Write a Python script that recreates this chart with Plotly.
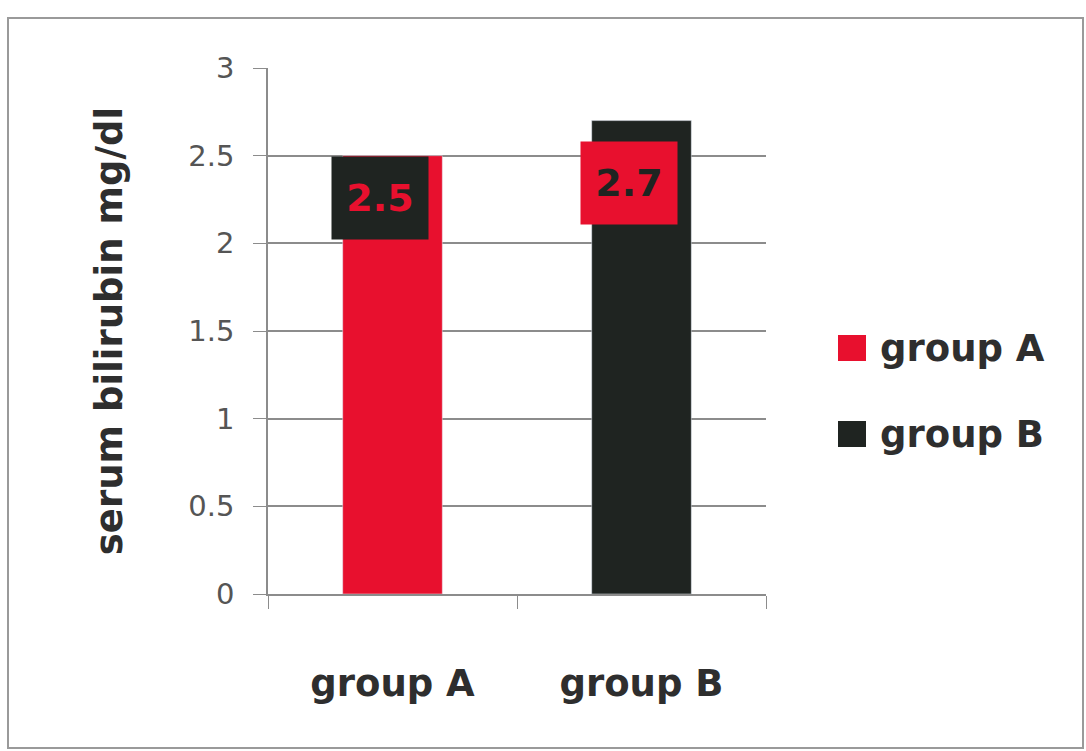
import plotly.graph_objects as go

categories = ["group A", "group B"]
values = [2.5, 2.7]
label_texts = ["2.5", "2.7"]
colors = ["#e8102e", "#1f2421"]
label_bg = ["#1f2421", "#e8102e"]
label_fg = ["#e8102e", "#1f2421"]
label_yshift = [0, -20]
y_ticks = [0, 0.5, 1, 1.5, 2, 2.5, 3]

FONT = "DejaVu Sans, sans-serif"
TXT = "#2e2e2e"

fig = go.Figure()
for i, cat in enumerate(categories):
    fig.add_trace(go.Bar(
        x=[cat], y=[values[i]], name=cat, marker_color=colors[i],
        width=0.4, showlegend=False,
    ))

for i, cat in enumerate(categories):
    fig.add_annotation(
        x=cat, y=values[i], xref="x", yref="y", text="<b>%s</b>" % label_texts[i],
        showarrow=False, yanchor="top", xanchor="center", xshift=-13, yshift=label_yshift[i],
        bgcolor=label_bg[i], width=94, height=80, valign="middle",
        font=dict(family=FONT, size=38, color=label_fg[i]),
    )

# manual legend (paper coordinates derived from pixel layout of plot area)
PX0, PW, PY0, PH = 268, 498, 594, 526
def px(x):
    return (x - PX0) / PW
def py(y):
    return (PY0 - y) / PH

legend_y = [348, 434]
for i, cat in enumerate(categories):
    fig.add_shape(type="rect", xref="paper", yref="paper",
                  x0=px(838), x1=px(866), y0=py(legend_y[i] + 13), y1=py(legend_y[i] - 13),
                  fillcolor=colors[i], line=dict(width=0))
    fig.add_annotation(x=px(878), y=py(legend_y[i]), xref="paper", yref="paper",
                       text="<b>%s</b>" % cat, showarrow=False, xanchor="left", yanchor="middle",
                       font=dict(family=FONT, size=37, color=TXT))

# outer frame
fig.add_shape(type="rect", xref="paper", yref="paper",
              x0=px(8), x1=px(1083), y0=py(748), y1=py(18),
              line=dict(color="#9a9a9a", width=2), fillcolor="rgba(0,0,0,0)", layer="below")

fig.update_layout(
    width=1086, height=751,
    margin=dict(l=268, r=320, t=68, b=157),
    paper_bgcolor="white", plot_bgcolor="white",
    font=dict(family=FONT),
    showlegend=False,
    xaxis=dict(
        showline=True, linecolor="#8c8c8c", linewidth=1.5,
        ticks="outside", tickson="boundaries", ticklen=13, tickcolor="#8c8c8c",
        tickfont=dict(family=FONT, size=37, color=TXT, weight="bold"),
        ticklabelstandoff=56, showgrid=False,
    ),
    yaxis=dict(
        range=[0, 3], tickvals=y_ticks, ticktext=[("%g" % v) for v in y_ticks],
        showline=True, linecolor="#8c8c8c", linewidth=1.5,
        ticks="outside", ticklen=13, tickcolor="#8c8c8c",
        showgrid=True, gridcolor="#8c8c8c", gridwidth=1.5,
        tickfont=dict(family=FONT, size=29, color="#555555"),
        ticklabelstandoff=13, zeroline=False,
        title=dict(text="serum bilirubin mg/dl", standoff=54,
                   font=dict(family=FONT, size=37, color=TXT, weight="bold")),
    ),
)

fig.write_html("out.html")
